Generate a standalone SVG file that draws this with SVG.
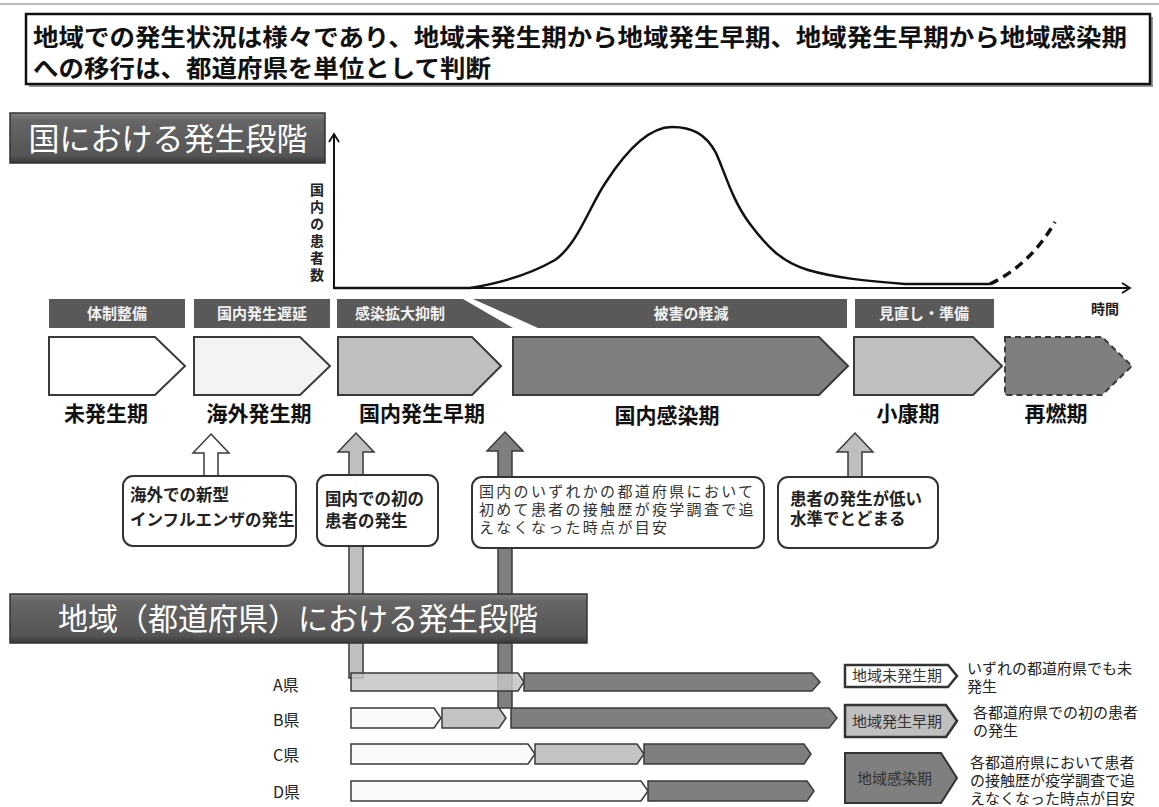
<svg xmlns="http://www.w3.org/2000/svg" width="1159" height="807" viewBox="0 0 1159 807">
<defs>
<linearGradient id="bannerGrad" x1="0" y1="0" x2="0" y2="1">
<stop offset="0" stop-color="#808080"/>
<stop offset="0.15" stop-color="#666"/>
<stop offset="0.85" stop-color="#555"/>
<stop offset="1" stop-color="#3a3a3a"/>
</linearGradient>
<marker id="openArrow" markerWidth="12" markerHeight="12" refX="10" refY="6" orient="auto" markerUnits="userSpaceOnUse">
<path d="M2,1 L10,6 L2,11" fill="none" stroke="#111" stroke-width="1.8"/>
</marker>
</defs>
<style>
text{font-family:"Noto Sans CJK JP","Noto Sans",sans-serif;}
.title{font-size:24px;font-weight:bold;fill:#111;}
.banner{fill:url(#bannerGrad);stroke:#333;stroke-width:1.5;}
.bannerText{font-size:31px;fill:#fff;text-anchor:middle;}
.bar{fill:#595959;}
.barText{font-size:15px;fill:#f2f2f2;text-anchor:middle;font-weight:bold;}
.chev{stroke:#3a3a3a;stroke-width:2;}
.phase{font-size:21px;font-weight:bold;fill:#111;text-anchor:middle;}
.callout{fill:#fff;stroke:#333;stroke-width:2;}
.cText{font-size:16.5px;font-weight:bold;fill:#222;}
.cThin{font-size:15px;fill:#333;letter-spacing:2.3px;}
.upArrow{stroke:#3a3a3a;stroke-width:1.5;}
.pref{font-size:16px;fill:#222;}
.pbar{stroke:#3a3a3a;stroke-width:1.5;}
.white{fill:#fafafa;}
.light{fill:#c4c4c4;}
.dark{fill:#7f7f7f;}
.legText{font-size:15px;fill:#222;}
</style>
<line x1="0" y1="4" x2="1159" y2="4" stroke="#bbb" stroke-width="2"/>
<g id="title">
<rect x="29" y="17" width="1124" height="70" fill="#999"/>
<rect x="26" y="14" width="1124" height="70" fill="#fff" stroke="#111" stroke-width="2.5"/>
<text class="title"><tspan x="33" y="46" textLength="1094" lengthAdjust="spacingAndGlyphs">地域での発生状況は様々であり、地域未発生期から地域発生早期、地域発生早期から地域感染期</tspan><tspan x="33" y="77" textLength="458" lengthAdjust="spacingAndGlyphs">への移行は、都道府県を単位として判断</tspan></text>
</g>
<g id="banner-national">
<rect class="banner" x="10" y="113" width="315" height="50"/>
<text class="bannerText" x="168" y="150">国における発生段階</text>
</g>
<g id="chart">
<line x1="334" y1="289" x2="334" y2="134" stroke="#111" stroke-width="2" marker-end="url(#openArrow)"/>
<line x1="333" y1="288" x2="1130" y2="288" stroke="#111" stroke-width="2" marker-end="url(#openArrow)"/>
<path d="M334,288 L470,288 Q520,280 555,260 C578,244 590,205 606,182 C628,148 650,127 672,127 C692,127 706,134 716,153 C726,175 732,200 750,224 C768,248 782,262 808,270 C836,278 866,281 905,284 L990,284" fill="none" stroke="#111" stroke-width="2.5"/>
<path d="M990,284 Q1030,265 1055,222" fill="none" stroke="#111" stroke-width="3.5" stroke-dasharray="9,6"/>
<text x="317" y="183" font-size="14" font-weight="bold" fill="#222" writing-mode="tb" letter-spacing="3">国内の患者数</text>
<text x="1105" y="314" font-size="14" font-weight="bold" fill="#222" text-anchor="middle">時間</text>
</g>
<g id="measure-bars">
<rect class="bar" x="49" y="299" width="136" height="29"/>
<text class="barText" x="117" y="319">体制整備</text>
<rect class="bar" x="194" y="299" width="136" height="29"/>
<text class="barText" x="262" y="319">国内発生遅延</text>
<polygon class="bar" points="337,299 463,299 513,328 337,328"/>
<text class="barText" x="400" y="319">感染拡大抑制</text>
<polygon class="bar" points="473,299 847,299 847,328 538,328"/>
<text class="barText" x="691" y="319">被害の軽減</text>
<rect class="bar" x="855" y="299" width="139" height="29"/>
<text class="barText" x="924" y="319">見直し・準備</text>
</g>
<g id="phase-1">
<path class="chev" d="M49,337 H155 L185,366 L155,395 H49 Z" fill="#fff"/>
<text class="phase" x="106" y="421">未発生期</text>
</g>
<g id="phase-2">
<path class="chev" d="M194,337 H300 L330,366 L300,395 H194 Z" fill="#f3f3f3"/>
<text class="phase" x="259" y="421">海外発生期</text>
</g>
<g id="phase-3">
<path class="chev" d="M338,337 H472 L501,366 L472,395 H338 Z" fill="#bfbfbf"/>
<text class="phase" x="422" y="421">国内発生早期</text>
</g>
<g id="phase-4">
<path class="chev" d="M513,337 H819 L848,366 L819,395 H513 Z" fill="#7f7f7f"/>
<text class="phase" x="667" y="423">国内感染期</text>
</g>
<g id="phase-5">
<path class="chev" d="M854,337 H973 L1002,366 L973,395 H854 Z" fill="#bfbfbf"/>
<text class="phase" x="908" y="421">小康期</text>
</g>
<g id="phase-6">
<path class="chev" d="M1005,337 H1102 L1132,366 L1102,395 H1005 Z" fill="#7f7f7f" stroke-dasharray="6,4"/>
<text class="phase" x="1056" y="421">再燃期</text>
</g>
<g id="connectors">
<path class="upArrow" d="M211,434 L229,453 L218,453 L218,477 L204,477 L204,453 L193,453 Z" fill="#fff"/>
<path class="upArrow" d="M356,433 L374,452 L363,452 L363,678 L349,678 L349,452 L338,452 Z" fill="#bfbfbf"/>
<path class="upArrow" d="M505,432 L523,451 L512,451 L512,708 L498,708 L498,451 L487,451 Z" fill="#7f7f7f"/>
<path class="upArrow" d="M855,433 L873,452 L862,452 L862,478 L848,478 L848,452 L837,452 Z" fill="#bfbfbf"/>
</g>
<g id="callout-1">
<rect class="callout" x="123" y="476" width="173" height="70" rx="10"/>
<text class="cText"><tspan x="130" y="501">海外での新型</tspan><tspan x="130" y="526">インフルエンザの発生</tspan></text>
</g>
<g id="callout-2">
<rect class="callout" x="317" y="475" width="121" height="71" rx="10"/>
<text class="cText"><tspan x="325" y="505">国内での初の</tspan><tspan x="325" y="527">患者の発生</tspan></text>
</g>
<g id="callout-3">
<rect class="callout" x="472" y="477" width="292" height="71" rx="10"/>
<text class="cThin"><tspan x="479" y="497">国内のいずれかの都道府県において</tspan><tspan x="479" y="515">初めて患者の接触歴が疫学調査で追</tspan><tspan x="479" y="533">えなくなった時点が目安</tspan></text>
</g>
<g id="callout-4">
<rect class="callout" x="778" y="477" width="160" height="71" rx="10"/>
<text class="cText"><tspan x="790" y="505">患者の発生が低い</tspan><tspan x="790" y="525">水準でとどまる</tspan></text>
</g>
<g id="banner-regional">
<rect class="banner" x="10" y="594" width="577" height="49"/>
<text class="bannerText" x="298" y="630" font-size="30" textLength="480" lengthAdjust="spacingAndGlyphs">地域（都道府県）における発生段階</text>
</g>
<g id="pref-A">
<text class="pref" x="273" y="691">A県</text>
<path class="pbar light" d="M351,673 H518 L524,682 L518,691 H351 Z" fill-opacity="0.85"/>
<path class="pbar dark" d="M524,673 H812 L820,682 L812,691 H524 Z"/>
</g>
<g id="pref-B">
<text class="pref" x="273" y="726">B県</text>
<path class="pbar white" d="M351,708 H434 L441,718 L434,728 H351 Z"/>
<path class="pbar light" d="M442,708 H499 L506,718 L499,728 H442 Z"/>
<path class="pbar dark" d="M511,708 H829 L837,718 L829,728 H511 Z"/>
</g>
<g id="pref-C">
<text class="pref" x="273" y="761">C県</text>
<path class="pbar white" d="M351,744 H528 L535,754 L528,764 H351 Z"/>
<path class="pbar light" d="M535,744 H637 L644,754 L637,764 H535 Z"/>
<path class="pbar dark" d="M644,744 H804 L811,754 L804,764 H644 Z"/>
</g>
<g id="pref-D">
<text class="pref" x="273" y="798">D県</text>
<path class="pbar white" d="M351,781 H641 L648,791 L641,801 H351 Z"/>
<path class="pbar dark" d="M648,781 H807 L814,791 L807,801 H648 Z"/>
</g>
<g id="legend-1">
<path d="M845,665 H948 L957,676 L948,687 H845 Z" fill="#fff" stroke="#333" stroke-width="2.5"/>
<text x="852" y="681" font-size="15" fill="#333">地域未発生期</text>
<text class="legText"><tspan x="967" y="674">いずれの都道府県でも未</tspan><tspan x="967" y="692">発生</tspan></text>
</g>
<g id="legend-2">
<path d="M845,705 H946 L957,721 L946,737 H845 Z" fill="#bfbfbf" stroke="#333" stroke-width="2.5"/>
<text x="852" y="727" font-size="15" fill="#333">地域発生早期</text>
<text class="legText"><tspan x="973" y="718">各都道府県での初の患者</tspan><tspan x="973" y="736">の発生</tspan></text>
</g>
<g id="legend-3">
<path d="M845,753 H941 L957,778 L941,803 H845 Z" fill="#7f7f7f" stroke="#333" stroke-width="2"/>
<text x="857" y="784" font-size="15" fill="#333">地域感染期</text>
<text class="legText"><tspan x="970" y="768">各都道府県において患者</tspan><tspan x="970" y="786">の接触歴が疫学調査で追</tspan><tspan x="970" y="804">えなくなった時点が目安</tspan></text>
</g>
</svg>
